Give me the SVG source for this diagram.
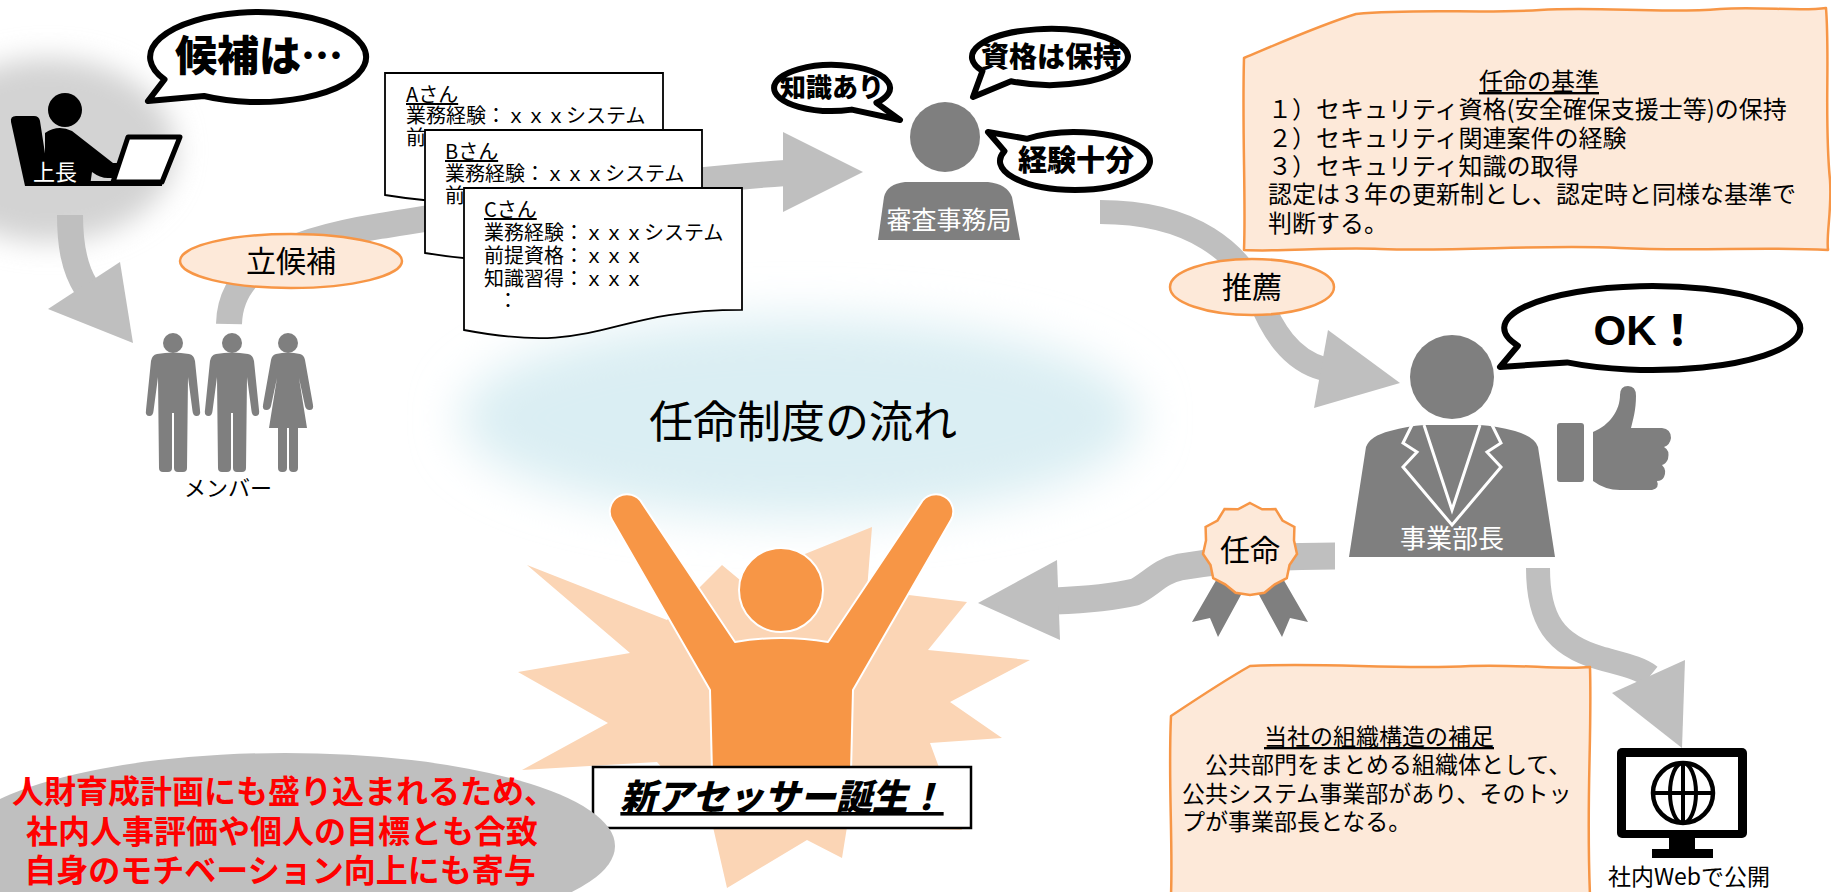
<svg xmlns="http://www.w3.org/2000/svg" width="1831" height="892" viewBox="0 0 1831 892">
  <defs>
    <filter id="haze" x="-30%" y="-60%" width="160%" height="220%">
      <feGaussianBlur stdDeviation="24"/>
    </filter>
    <filter id="shade" x="-40%" y="-40%" width="180%" height="180%">
      <feGaussianBlur stdDeviation="14"/>
    </filter>
  </defs>
  <style>
    text { font-family: "Liberation Sans", "Noto Sans CJK JP", sans-serif; }
    .jp { font-family: "Noto Sans CJK JP", "Liberation Sans", sans-serif; }
    .shaft { fill: none; stroke: #BFBFBF; stroke-linecap: butt; }
    .head { fill: #BFBFBF; }
    .tag { fill: #FDE9D9; stroke: #F79646; stroke-width: 2.5; }
    .tagtxt { font-size: 30px; fill: #000; text-anchor: middle; }
    .bubble { fill: #fff; stroke: #000; stroke-width: 6; stroke-linejoin: round; }
    .btxt { font-weight: 900; fill: #000; text-anchor: middle; }
    .doc { fill: #fff; stroke: #000; stroke-width: 1.8; }
    .dtxt { font-size: 20px; fill: #000; }
    .person { fill: #7F7F7F; }
    .note { fill: #FDE9D9; stroke: #F79646; stroke-width: 2.5; stroke-linejoin: round; }
    .ntxt { fill: #000; }
    .ul { text-decoration: underline; }
  </style>

  <rect x="0" y="0" width="1831" height="892" fill="#fff"/>

  <!-- soft backdrops -->
  <ellipse cx="800" cy="418" rx="340" ry="100" fill="#DAEEF3" filter="url(#haze)"/>
  <ellipse cx="48" cy="150" rx="128" ry="92" fill="#D3D3D3" filter="url(#shade)"/>

  <!-- flow connectors -->
  <g id="connectors">
    <!-- boss to members -->
    <path class="shaft" stroke-width="26" d="M70,215 C70,245 74,268 86,287"/>
    <polygon class="head" points="48,309 120,262 133,343"/>
    <!-- members to review office -->
    <path class="shaft" stroke-width="26" d="M229,324 C230,270 280,242 380,226 C480,210 640,183 786,173"/>
    <polygon class="head" points="783,132 783,212 863,172"/>
    <!-- review office to division head -->
    <path class="shaft" stroke-width="24" d="M1100,212 C1195,212 1240,255 1258,295 C1272,330 1290,360 1324,369"/>
    <polygon class="head" points="1328,330 1314,408 1400,383"/>
    <!-- division head to new assessor -->
    <path class="shaft" stroke-width="27" d="M1335,556 C1280,556 1220,560 1180,567 C1160,571 1150,585 1135,592 C1110,598 1080,600 1055,601"/>
    <polygon class="head" points="1057,560 1060,640 978,603"/>
    <!-- division head to intranet -->
    <path class="shaft" stroke-width="24" d="M1538,568 C1538,620 1555,645 1600,658 C1625,665 1640,668 1650,676"/>
    <polygon class="head" points="1612,693 1685,660 1682,748"/>

    <g id="label-candidacy">
      <ellipse class="tag" cx="291" cy="261" rx="111" ry="27"/>
      <text class="tagtxt jp" x="291" y="272">立候補</text>
    </g>
    <g id="label-recommend">
      <ellipse class="tag" cx="1252" cy="287" rx="82" ry="28"/>
      <text class="tagtxt jp" x="1252" y="298">推薦</text>
    </g>
  </g>

  <!-- title -->
  <g id="title">
    <text class="jp" x="803" y="438" font-size="44" text-anchor="middle" fill="#000">任命制度の流れ</text>
  </g>

  <!-- supervisor at desk -->
  <g id="boss">
    <path d="M11,122 Q10,116 16,116 L34,116 Q39,116 40,121 L50,186 L25,186 Z" fill="#000"/>
    <path d="M45,133 Q58,124 72,131 L113,163 L139,163 Q147,164 147,171 Q146,178 139,178 L108,178 Q100,178 92,172 L90,186 L45,186 Z" fill="#000"/>
    <circle cx="65" cy="110" r="17" fill="#000"/>
    <rect x="90" y="181" width="72" height="5" fill="#000"/>
    <polygon points="128,137 180,137 162,182 113,182" fill="#fff" stroke="#000" stroke-width="5" stroke-linejoin="round"/>
    <text class="jp" x="55" y="180" font-size="22" fill="#fff" text-anchor="middle">上長</text>
  </g>
  <g id="bubble-boss">
    <path class="bubble" stroke-width="8" d="M204,96 A108,45 0 1 0 164.5,79.5 L148,101 Z"/>
    <text class="btxt jp" x="259" y="71" font-size="42">候補は…</text>
  </g>

  <!-- members -->
  <g id="members">
    <circle class="person" cx="173" cy="343" r="10"/>
    <path class="person" d="M157,354 Q173,351 189,354 Q194,355 195,361 L200,410 Q201,416 196.5,416 Q193,416 192.5,411 L188,377 L187,468 Q187,472 183,472 L178,472 Q174,472 174,468 L174,413 L172,413 L172,468 Q172,472 168,472 L163,472 Q159,472 159,468 L158,377 L153.5,411 Q153,416 149.5,416 Q145,416 146,410 L151,361 Q152,355 157,354 Z"/>
    <circle class="person" cx="232" cy="343" r="10"/>
    <path class="person" d="M216,354 Q232,351 248,354 Q253,355 254,361 L259,410 Q260,416 255.5,416 Q252,416 251.5,411 L247,377 L246,468 Q246,472 242,472 L237,472 Q233,472 233,468 L233,413 L231,413 L231,468 Q231,472 227,472 L222,472 Q218,472 218,468 L217,377 L212.5,411 Q212,416 208.5,416 Q204,416 205,410 L210,361 Q211,355 216,354 Z"/>
    <circle class="person" cx="288" cy="343" r="10"/>
    <path class="person" d="M276,354 Q288,351 300,354 Q304,355 305,360 L313,405 Q314,410 309.5,410 Q306,410 305,406 L299,378 L307,428 L298,428 L298,468 Q298,472 294,472 L293,472 Q289,472 289,468 L289,428 L287,428 L287,468 Q287,472 283,472 L282,472 Q278,472 278,468 L278,428 L269,428 L277,378 L271,406 Q270,410 266.5,410 Q262,410 263,405 L271,360 Q272,355 276,354 Z"/>
    <text class="jp" x="228" y="496" font-size="22" text-anchor="middle" fill="#000">メンバー</text>
  </g>

  <!-- candidate sheets -->
  <g id="sheet-a">
    <path class="doc" d="M385,73 H663 V177.8 C524,177.8 524,217.6 385,195 Z"/>
    <text class="dtxt jp"><tspan x="406" y="102" class="ul">Aさん</tspan><tspan x="406" y="123">業務経験：ｘｘｘシステム</tspan><tspan x="406" y="145">前</tspan></text>
  </g>
  <g id="sheet-b">
    <path class="doc" d="M425,130 H702 V235.6 C563.5,235.6 563.5,275.8 425,253 Z"/>
    <text class="dtxt jp"><tspan x="445" y="159" class="ul">Bさん</tspan><tspan x="445" y="181">業務経験：ｘｘｘシステム</tspan><tspan x="445" y="203">前</tspan></text>
  </g>
  <g id="sheet-c">
    <path class="doc" d="M464,188 H742 V309.9 C603,309.9 603,356.3 464,330 Z"/>
    <text class="dtxt jp"><tspan x="484" y="217" class="ul">Cさん</tspan><tspan x="484" y="240">業務経験：ｘｘｘシステム</tspan><tspan x="484" y="263">前提資格：ｘｘｘ</tspan><tspan x="484" y="286">知識習得：ｘｘｘ</tspan><tspan x="498" y="308">：</tspan></text>
  </g>

  <!-- review office -->
  <g id="review-office">
    <circle class="person" cx="945" cy="137" r="35"/>
    <path class="person" d="M878,240 L884,197 Q887,184 905,182 L988,182 Q1007,184 1012,197 L1020,240 Z"/>
    <text class="jp" x="949" y="229" font-size="25" text-anchor="middle" fill="#fff">審査事務局</text>
  </g>
  <g id="bubble-knowledge">
    <path class="bubble" d="M851.8,109.6 A58,23 0 1 1 876.4,102.8 L900,120 Z"/>
    <text class="btxt jp" x="832" y="97" font-size="26">知識あり</text>
  </g>
  <g id="bubble-qualified">
    <path class="bubble" d="M1011,81.2 A78,28 0 1 0 982.5,71 L973,97 Z"/>
    <text class="btxt jp" x="1051" y="67" font-size="28">資格は保持</text>
  </g>
  <g id="bubble-experience">
    <path class="bubble" d="M1026.8,138.8 A75,29 0 1 1 1004.5,151.1 L988,132 Z"/>
    <text class="btxt jp" x="1076" y="171" font-size="29">経験十分</text>
  </g>

  <!-- appointment criteria note -->
  <g id="criteria">
    <path class="note" d="M1244,58 C1275,45 1320,25 1356,14 C1420,8 1480,14 1540,10 C1600,6 1660,14 1720,9 C1760,6 1800,12 1826,8 C1830,60 1824,120 1830,180 C1832,210 1826,235 1828,250 C1760,246 1700,252 1620,248 C1540,244 1460,252 1380,249 C1330,247 1280,252 1244,250 C1246,200 1242,130 1244,58 Z"/>
    <text class="ntxt jp" font-size="24"><tspan x="1539" y="90" text-anchor="middle" class="ul">任命の基準</tspan><tspan x="1268" y="118">１）セキュリティ資格(安全確保支援士等)の保持</tspan><tspan x="1268" y="147">２）セキュリティ関連案件の経験</tspan><tspan x="1268" y="175">３）セキュリティ知識の取得</tspan><tspan x="1268" y="203">認定は３年の更新制とし、認定時と同様な基準で</tspan><tspan x="1268" y="232">判断する。</tspan></text>
  </g>

  <!-- division head -->
  <g id="division-head">
    <circle class="person" cx="1452" cy="377" r="42"/>
    <path class="person" d="M1349,557 L1366,447 Q1370,436 1390,431 Q1408,426 1424,425 L1480,425 Q1496,426 1515,431 Q1535,437 1538,447 L1555,557 Z"/>
    <polyline points="1412,425 1403,443 1417,452 1403,467 1452,525 1501,467 1487,452 1501,443 1492,425" fill="none" stroke="#fff" stroke-width="3" stroke-linejoin="miter"/>
    <polyline points="1424,425 1452,510 1480,425" fill="none" stroke="#fff" stroke-width="3"/>
    <text class="jp" x="1452" y="548" font-size="26" text-anchor="middle" fill="#fff">事業部長</text>
    <rect class="person" x="1557" y="423" width="27" height="59" rx="3"/>
    <path class="person" d="M1593,432 C1610,425 1620,410 1620,395 Q1620,386 1628,386 Q1636,386 1636,396 C1636,410 1633,420 1631,428 L1662,428 Q1671,429 1671,438 Q1670,445 1664,447 Q1670,450 1668,459 Q1666,464 1662,465 Q1667,470 1664,477 Q1662,481 1657,481 Q1660,488 1652,490 L1620,490 Q1605,490 1593,481 Z"/>
  </g>
  <g id="bubble-ok">
    <path class="bubble" stroke-width="8" d="M1567,362.4 A148,42 0 1 0 1517.9,345.7 L1500,367 Z"/>
    <text class="btxt" x="1646" y="345" font-size="42">OK！</text>
  </g>

  <!-- appointment seal -->
  <g id="seal">
    <polygon points="1242,593 1218,577 1192,622 1210,618 1218,637" fill="#7F7F7F"/>
    <polygon points="1258,593 1282,577 1308,622 1290,618 1282,637" fill="#7F7F7F"/>
    <polygon class="tag" points="1250,503 1262.1,509.3 1275.5,509.1 1282.5,520.5 1294.4,527 1294,540.5 1297,554 1289.5,565.1 1286.8,578.2 1274.9,584.3 1264.4,592.7 1250,595 1235.6,592.7 1225.1,584.3 1213.2,578.2 1210.5,565.1 1203,554 1206,540.5 1205.6,527 1217.5,520.5 1224.5,509.1 1237.9,509.3"/>
    <text class="tagtxt jp" x="1250" y="561">任命</text>
  </g>

  <!-- intranet publication -->
  <g id="intranet">
    <rect x="1617" y="748" width="130" height="90" rx="5" fill="#000"/>
    <rect x="1626" y="757" width="112" height="73" fill="#fff"/>
    <rect x="1669" y="837" width="26" height="13" fill="#000"/>
    <rect x="1652" y="849" width="61" height="9" fill="#000"/>
    <circle cx="1683" cy="793" r="30" fill="none" stroke="#000" stroke-width="4.5"/>
    <ellipse cx="1683" cy="793" rx="13" ry="30" fill="none" stroke="#000" stroke-width="4"/>
    <line x1="1683" y1="763" x2="1683" y2="823" stroke="#000" stroke-width="4"/>
    <line x1="1653" y1="793" x2="1713" y2="793" stroke="#000" stroke-width="4"/>
    <text class="jp" x="1689" y="885" font-size="23" text-anchor="middle" fill="#000">社内Webで公開</text>
  </g>

  <!-- organisation note -->
  <g id="org-note">
    <path class="note" d="M1171,716 C1195,700 1225,680 1250,666 C1320,662 1400,670 1470,666 C1520,664 1560,670 1590,667 C1592,740 1586,800 1590,895 L1171,895 C1173,840 1168,780 1171,716 Z"/>
    <text class="ntxt jp" font-size="23"><tspan x="1379" y="745" text-anchor="middle" class="ul">当社の組織構造の補足</tspan><tspan x="1182" y="773">　公共部門をまとめる組織体として、</tspan><tspan x="1182" y="802">公共システム事業部があり、そのトッ</tspan><tspan x="1182" y="830">プが事業部長となる。</tspan></text>
  </g>

  <!-- new assessor -->
  <g id="new-assessor">
    <polygon points="527,565 667,620 722,565 740,580 872,527 867,590 967,602 928,650 1030,660 950,702 1002,738 930,743 962,830 847,827 842,858 807,840 727,888 713,827 657,762 522,770 608,723 518,672 630,653" fill="#FBD5B5"/>
    <path d="M642,503 L735,642 Q781,634 828,642 L921,503 A17,17 0 0 1 951,520 L853,690 L851,772 L712,772 L710,690 L612,520 A17,17 0 0 1 642,503 Z" fill="#F79646" stroke="#fff" stroke-width="2" stroke-linejoin="round"/>
    <circle cx="781" cy="590" r="42" fill="#F79646" stroke="#fff" stroke-width="2"/>
    <rect x="593" y="767" width="378" height="61" fill="#fff" stroke="#000" stroke-width="2.5"/>
    <text class="jp" x="782" y="810" font-size="36" font-weight="900" font-style="italic" text-anchor="middle" text-decoration="underline" fill="#000">新アセッサー誕生！</text>
  </g>

  <!-- motivation note -->
  <g id="motivation">
    <ellipse cx="285" cy="846" rx="330" ry="93" fill="#BFBFBF"/>
    <text class="jp" font-size="32" font-weight="700" text-anchor="middle" fill="#FF0000"><tspan x="284" y="803">人財育成計画にも盛り込まれるため、</tspan><tspan x="282" y="843">社内人事評価や個人の目標とも合致</tspan><tspan x="280" y="882">自身のモチベーション向上にも寄与</tspan></text>
  </g>
</svg>
